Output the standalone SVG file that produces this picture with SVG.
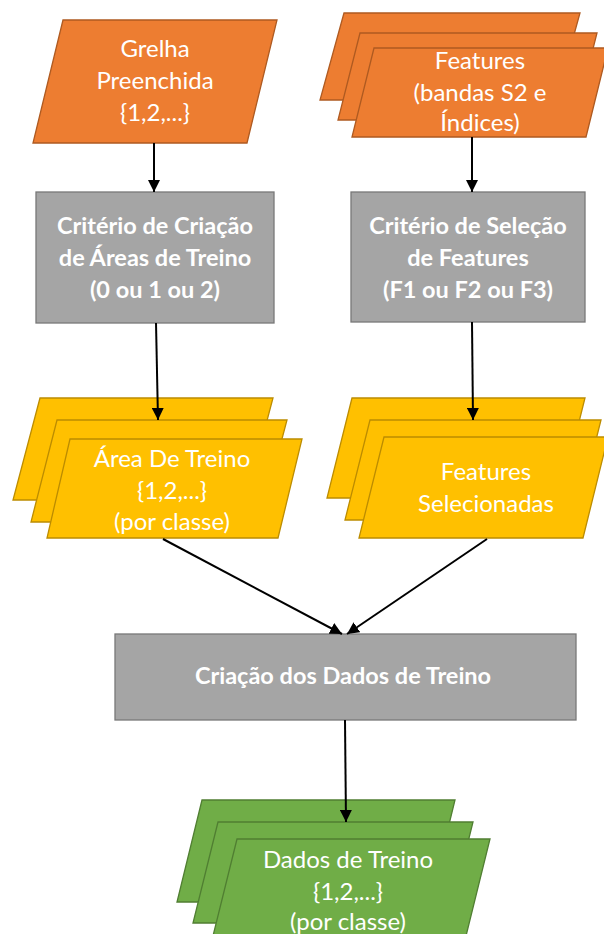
<svg xmlns="http://www.w3.org/2000/svg" width="604" height="934" viewBox="0 0 604 934">
  <defs>
    <marker id="arrow" viewBox="0 0 12 12" refX="12" refY="6" markerWidth="12" markerHeight="12" markerUnits="userSpaceOnUse" orient="auto">
      <path d="M0,0 L12,6 L0,12 z" fill="#000"/>
    </marker>
  </defs>
  <style>
    .orange { fill: #ED7D31; stroke: #AE5A21; stroke-width: 1.3; }
    .yellow { fill: #FFC000; stroke: #BC8C00; stroke-width: 1.3; }
    .green { fill: #70AD47; stroke: #507E32; stroke-width: 1.3; }
    .proc { fill: #A5A5A5; stroke: #787878; stroke-width: 1.3; }
    .lbl { font-family: Lato, "Open Sans", "Liberation Sans", sans-serif; font-size: 24px; fill: #fff; text-anchor: middle; }
    .bold { font-weight: bold; font-size: 23.5px; }
    .conn { stroke: #000; stroke-width: 2; fill: none; marker-end: url(#arrow); }
  </style>

  <rect width="604" height="934" fill="#fff"/>

  <!-- Input: filled grid -->
  <g id="grelha">
    <polygon class="orange" points="63,20 277,20 247,143 33,143"/>
    <text class="lbl" x="155" y="57">Grelha</text>
    <text class="lbl" x="155" y="89">Preenchida</text>
    <text class="lbl" x="155" y="121">{1,2,...}</text>
  </g>

  <!-- Input: feature stack -->
  <g id="features">
    <polygon class="orange" points="344,13 580,13 556,100 320,100"/>
    <polygon class="orange" points="360,33 597,33 575,120 338,120"/>
    <polygon class="orange" points="374,48 608,48 586,137 352,137"/>
    <text class="lbl" x="480" y="69">Features</text>
    <text class="lbl" x="480" y="101">(bandas S2 e</text>
    <text class="lbl" x="480" y="131">Índices)</text>
  </g>

  <!-- Process boxes -->
  <g id="criterio-areas">
    <rect class="proc" x="36" y="192" width="238" height="131"/>
    <text class="lbl bold" x="155" y="234">Critério de Criação</text>
    <text class="lbl bold" x="155" y="266">de Áreas de Treino</text>
    <text class="lbl bold" x="155" y="298">(0 ou 1 ou 2)</text>
  </g>

  <g id="criterio-features">
    <rect class="proc" x="351" y="192" width="234" height="130"/>
    <text class="lbl bold" x="468" y="234">Critério de Seleção</text>
    <text class="lbl bold" x="468" y="266">de Features</text>
    <text class="lbl bold" x="468" y="298">(F1 ou F2 ou F3)</text>
  </g>

  <!-- Intermediate outputs -->
  <g id="area-treino">
    <polygon class="yellow" points="40,398 273,398 246,500 13,500"/>
    <polygon class="yellow" points="57,420 287,420 260,522 31,522"/>
    <polygon class="yellow" points="70,439 302,439 278,538 47,538"/>
    <text class="lbl" x="172" y="467">Área De Treino</text>
    <text class="lbl" x="172" y="499">{1,2,...}</text>
    <text class="lbl" x="172" y="530">(por classe)</text>
  </g>

  <g id="features-selecionadas">
    <polygon class="yellow" points="352,398 585,398 560,498 327,498"/>
    <polygon class="yellow" points="370,420 601,420 576,520 345,520"/>
    <polygon class="yellow" points="384,437 608,437 583,538 359,538"/>
    <text class="lbl" x="486" y="480">Features</text>
    <text class="lbl" x="486" y="512">Selecionadas</text>
  </g>

  <g id="criacao-dados">
    <rect class="proc" x="115" y="634" width="461" height="86"/>
    <text class="lbl bold" x="343" y="684">Criação dos Dados de Treino</text>
  </g>

  <!-- Final output -->
  <g id="dados-treino">
    <polygon class="green" points="202,800 455,800 430,902 177,902"/>
    <polygon class="green" points="218,822 473,822 448,923 193,923"/>
    <polygon class="green" points="237,839 490,839 465,940 212,940"/>
    <text class="lbl" x="348" y="868">Dados de Treino</text>
    <text class="lbl" x="348" y="900">{1,2,...}</text>
    <text class="lbl" x="348" y="930">(por classe)</text>
  </g>

  <!-- Connectors -->
  <g id="connectors">
    <line class="conn" x1="154" y1="143" x2="154" y2="192"/>
    <line class="conn" x1="472" y1="137" x2="472" y2="192"/>
    <line class="conn" x1="156" y1="323" x2="158" y2="420"/>
    <line class="conn" x1="472" y1="322" x2="473" y2="420"/>
    <line class="conn" x1="163" y1="539" x2="342" y2="634"/>
    <line class="conn" x1="487" y1="539" x2="347" y2="634"/>
    <line class="conn" x1="345" y1="720" x2="346" y2="822"/>
  </g>
</svg>
